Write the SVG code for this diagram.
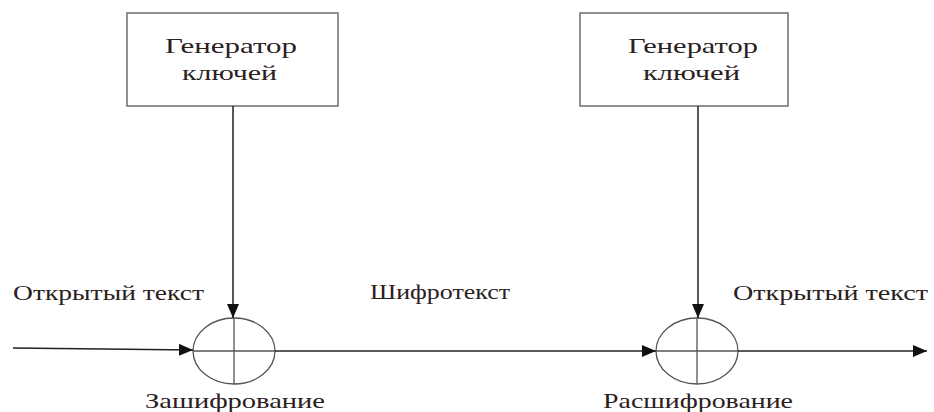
<svg xmlns="http://www.w3.org/2000/svg" width="934" height="412" viewBox="0 0 934 412">
  <style>
    .box { fill: #ffffff; stroke: #6e6e6e; stroke-width: 1.5; }
    .xor { fill: none; stroke: #555555; stroke-width: 1.3; }
    .wire { stroke: #222222; stroke-width: 1.5; fill: none; }
    text { font-size: 22px; fill: #2b211c; }
  </style>
  <defs>
    <marker id="arrowLg" viewBox="0 0 14 12" refX="14" refY="6" markerWidth="14" markerHeight="12" markerUnits="userSpaceOnUse" orient="auto">
      <path d="M0,0 L14,6 L0,12 z" fill="#111111"/>
    </marker>
  </defs>
  <rect width="934" height="412" fill="#ffffff"/>

  <g font-family="'Times New Roman', 'Liberation Serif', 'DejaVu Serif', serif">
    <g id="keygen-enc">
      <rect class="box" x="127" y="13" width="211" height="93"/>
      <text x="165" y="53" textLength="132" lengthAdjust="spacingAndGlyphs">Генератор</text>
      <text x="182" y="80" textLength="95" lengthAdjust="spacingAndGlyphs">ключей</text>
    </g>

    <g id="keygen-dec">
      <rect class="box" x="580" y="13" width="208" height="93"/>
      <text x="628" y="53" textLength="130" lengthAdjust="spacingAndGlyphs">Генератор</text>
      <text x="643" y="80" textLength="97" lengthAdjust="spacingAndGlyphs">ключей</text>
    </g>

    <g id="encrypt">
      <ellipse class="xor" cx="234" cy="351" rx="41" ry="33"/>
      <line class="xor" x1="193" y1="351" x2="275" y2="351"/>
      <line class="xor" x1="234" y1="318" x2="234" y2="384"/>
      <text x="145" y="408" textLength="180" lengthAdjust="spacingAndGlyphs">Зашифрование</text>
    </g>

    <g id="decrypt">
      <ellipse class="xor" cx="697" cy="351" rx="41" ry="33"/>
      <line class="xor" x1="656" y1="351" x2="738" y2="351"/>
      <line class="xor" x1="697" y1="318" x2="697" y2="384"/>
      <text x="603" y="408" textLength="190" lengthAdjust="spacingAndGlyphs">Расшифрование</text>
    </g>

    <g id="connectors">
      <line class="wire" x1="233" y1="106" x2="233" y2="318" marker-end="url(#arrowLg)"/>
      <line class="wire" x1="698" y1="106" x2="698" y2="318" marker-end="url(#arrowLg)"/>
      <line class="wire" x1="13" y1="348" x2="193" y2="350" marker-end="url(#arrowLg)"/>
      <line class="wire" x1="275" y1="351" x2="656" y2="351" marker-end="url(#arrowLg)"/>
      <line class="wire" x1="738" y1="351" x2="927" y2="351" marker-end="url(#arrowLg)"/>
    </g>

    <g id="labels">
      <text x="13" y="300" textLength="191" lengthAdjust="spacingAndGlyphs">Открытый текст</text>
      <text x="370" y="299" textLength="140" lengthAdjust="spacingAndGlyphs">Шифротекст</text>
      <text x="733" y="300" textLength="195" lengthAdjust="spacingAndGlyphs">Открытый текст</text>
    </g>
  </g>
</svg>
